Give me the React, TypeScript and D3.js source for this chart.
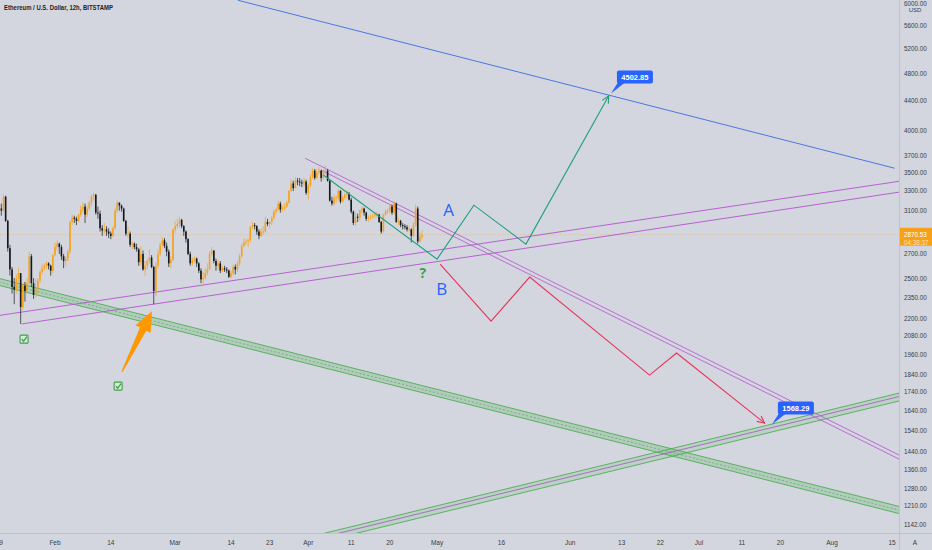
import * as d3 from 'd3';

const title = 'Ethereum / U.S. Dollar, 12h, BITSTAMP';
const firstBar = '2022-01-19T00:00:00Z';
const firstOpen = 3160;
const lastPrice = 2870.53;
const countdown = '04:38:37';

// 12h bars, two per day; open = previous close
const closes = [
    3120, 3100, 3240, 3000, 2750, 2570, 2430, 2410, 2500, 2540, 2280, 2440, 2400, 2460,
    2680, 2460, 2370, 2420, 2480, 2550, 2580, 2600, 2620, 2600, 2560, 2690, 2760, 2790,
    2760, 2680, 2640, 2660, 2720, 2990, 3030, 3020, 3000, 3060, 3110, 3140, 3060, 3120,
    3180, 3240, 3260, 3080, 3070, 2930, 2910, 2920, 2900, 2880, 2860, 2930, 3100, 3180,
    3150, 3120, 3000, 2880, 2880, 2780, 2790, 2760, 2740, 2630, 2700, 2570, 2600, 2640,
    2670, 2590, 2400, 2600, 2700, 2780, 2820, 2770, 2720, 2620, 2650, 2920, 2950, 2970,
    3010, 2950, 2900, 2830, 2700, 2620, 2650, 2660, 2620, 2560, 2490, 2500, 2540, 2570,
    2700, 2730, 2640, 2600, 2620, 2560, 2580, 2570, 2560, 2510, 2540, 2590, 2570, 2620,
    2680, 2770, 2800, 2810, 2820, 2940, 2960, 2950, 2900, 2860, 2900, 2900, 2990, 2970,
    2990, 3030, 3090, 3110, 3170, 3110, 3120, 3140, 3180, 3300, 3380, 3330, 3410, 3400,
    3390, 3380, 3400, 3280, 3360, 3450, 3520, 3440, 3500, 3520, 3440, 3520, 3520, 3410,
    3200, 3170, 3230, 3230, 3300, 3190, 3230, 3260, 3270, 3210, 3090, 2980, 3040, 3030,
    3100, 3120, 3080, 3020, 3030, 3040, 3050, 3060, 3060, 2990, 2900, 3060, 3090, 3100,
    3140, 3080, 3170, 2990, 3000, 2960, 2950, 2940, 2920, 2920, 2860, 2960, 3120, 2810,
    2850, 2870.53,
];
const highs = [
    3180, 3170, 3260, 3250, 3010, 2780, 2590, 2500, 2530, 2580, 2540, 2460, 2470, 2500,
    2720, 2700, 2500, 2490, 2500, 2560, 2610, 2620, 2640, 2630, 2610, 2700, 2800, 2820,
    2800, 2780, 2700, 2680, 2740, 3000, 3060, 3050, 3040, 3070, 3150, 3180, 3170, 3150,
    3200, 3260, 3280, 3270, 3140, 3100, 2960, 2980, 2950, 2930, 2900, 2950, 3120, 3200,
    3180, 3160, 3130, 3010, 2950, 2900, 2810, 2800, 2790, 2750, 2770, 2730, 2640, 2660,
    2740, 2690, 2600, 2630, 2740, 2800, 2850, 2840, 2800, 2740, 2680, 2930, 3000, 3020,
    3040, 3020, 2960, 2910, 2840, 2720, 2670, 2680, 2670, 2630, 2580, 2550, 2580, 2620,
    2720, 2760, 2720, 2660, 2650, 2640, 2600, 2600, 2590, 2570, 2560, 2610, 2610, 2640,
    2700, 2790, 2840, 2830, 2840, 2950, 2990, 2980, 2960, 2920, 2930, 2950, 3040, 3020,
    3000, 3050, 3110, 3130, 3200, 3190, 3150, 3170, 3200, 3310, 3430, 3410, 3450, 3440,
    3440, 3420, 3440, 3420, 3380, 3480, 3550, 3540, 3540, 3560, 3530, 3540, 3580, 3540,
    3420, 3240, 3260, 3250, 3320, 3310, 3250, 3280, 3310, 3290, 3230, 3100, 3080, 3070,
    3110, 3140, 3130, 3090, 3050, 3060, 3070, 3080, 3090, 3070, 3000, 3070, 3110, 3120,
    3170, 3160, 3190, 3180, 3030, 3010, 2980, 2970, 2960, 2950, 2930, 2990, 3160, 3140,
    2890, 2910,
];
const lows = [
    3080, 3050, 3090, 2990, 2720, 2520, 2380, 2300, 2380, 2470, 2160, 2260, 2320, 2380,
    2440, 2430, 2340, 2350, 2380, 2460, 2530, 2560, 2570, 2570, 2520, 2540, 2680, 2730,
    2700, 2650, 2580, 2600, 2640, 2700, 2960, 2980, 2960, 2990, 3040, 3080, 2980, 3040,
    3100, 3150, 3200, 3060, 3020, 2900, 2860, 2880, 2860, 2840, 2830, 2850, 2920, 3080,
    3100, 3090, 2990, 2860, 2840, 2760, 2740, 2740, 2720, 2600, 2600, 2560, 2520, 2570,
    2620, 2580, 2300, 2360, 2580, 2680, 2760, 2750, 2680, 2590, 2580, 2640, 2890, 2930,
    2940, 2930, 2860, 2800, 2690, 2600, 2600, 2630, 2590, 2540, 2460, 2450, 2490, 2520,
    2570, 2680, 2620, 2560, 2570, 2540, 2550, 2550, 2540, 2500, 2500, 2520, 2530, 2550,
    2600, 2670, 2760, 2780, 2760, 2800, 2920, 2920, 2870, 2830, 2850, 2870, 2890, 2950,
    2930, 2960, 3010, 3060, 3100, 3080, 3090, 3100, 3130, 3170, 3290, 3300, 3330, 3360,
    3350, 3340, 3350, 3260, 3210, 3340, 3430, 3420, 3430, 3480, 3400, 3420, 3480, 3400,
    3190, 3150, 3150, 3180, 3200, 3170, 3180, 3210, 3230, 3200, 3070, 2960, 2950, 2990,
    3000, 3070, 3050, 3000, 2990, 3010, 3020, 3030, 3030, 2980, 2880, 2890, 3050, 3070,
    3080, 3060, 3060, 2980, 2960, 2940, 2920, 2920, 2900, 2900, 2800, 2850, 2940, 2790,
    2800, 2830,
];

const priceTicks = [6000, 5600, 5200, 4800, 4400, 4000, 3700, 3500, 3300, 3100, 2900, 2700, 2500,
    2350, 2200, 2080, 1960, 1840, 1740, 1640, 1540, 1440, 1360, 1280, 1210, 1142];
const timeTicks = ['2022-01-19', '2022-02-01', '2022-02-14', '2022-03-01', '2022-03-14', '2022-03-23',
    '2022-04-01', '2022-04-11', '2022-04-20', '2022-05-01', '2022-05-16', '2022-06-01', '2022-06-13',
    '2022-06-22', '2022-07-01', '2022-07-11', '2022-07-20', '2022-08-01', '2022-08-15'];

// drawings: [time, price]
type Pt = [string, number];
const blueTrend: Pt[] = [['2022-03-15T14:00Z', 6060], ['2022-08-15T14:00Z', 3548]];
const supportUpper: Pt[] = [['2022-01-18T00:00Z', 2215], ['2022-08-18T00:00Z', 3413]];
const supportLower: Pt[] = [['2022-01-24T06:00Z', 2160], ['2022-08-18T00:00Z', 3297]];
const resistA: Pt[] = [['2022-03-31T06:00Z', 3663], ['2022-08-18T00:00Z', 1409]];
const resistB: Pt[] = [['2022-04-04T00:00Z', 3526], ['2022-08-18T00:00Z', 1391]];
const downBandTop: Pt[] = [['2022-01-18T00:00Z', 2506], ['2022-08-18T00:00Z', 1202]];
const downBandMid: Pt[] = [['2022-01-18T00:00Z', 2478], ['2022-08-18T00:00Z', 1188]];
const downBandBot: Pt[] = [['2022-01-18T00:00Z', 2451], ['2022-08-18T00:00Z', 1175]];
const upBandTop: Pt[] = [['2022-04-01T00:00Z', 1095], ['2022-08-18T00:00Z', 1741]];
const upBandMid: Pt[] = [['2022-04-01T00:00Z', 1083], ['2022-08-18T00:00Z', 1722]];
const upBandBot: Pt[] = [['2022-04-01T00:00Z', 1068], ['2022-08-18T00:00Z', 1698]];
const pathA: Pt[] = [['2022-04-04T14:00Z', 3470], ['2022-05-01T00:00Z', 2656], ['2022-05-09T14:00Z', 3154],
    ['2022-05-21T17:00Z', 2786], ['2022-06-10T00:00Z', 4470]];
const pathB: Pt[] = [['2022-05-01T17:00Z', 2614], ['2022-05-13T14:00Z', 2180], ['2022-05-22T14:00Z', 2508],
    ['2022-06-19T12:00Z', 1835], ['2022-06-25T19:00Z', 1969], ['2022-07-16T07:00Z', 1575]];
const bigArrow: Pt[] = [['2022-02-16T14:00Z', 1853], ['2022-02-23T14:00Z', 2250]];
const checks: Pt[] = [['2022-01-24T19:00Z', 2058], ['2022-02-15T17:00Z', 1772]];
const letters: [string, number, string, string][] = [
    ['2022-05-03T17:00Z', 3114, 'A', '#2962ff'],
    ['2022-05-02T02:00Z', 2421, 'B', '#2962ff'],
    ['2022-04-27T17:00Z', 2548, '?', '#43a047'],
];
const callouts: Pt[] = [['2022-06-10T12:00Z', 4502.85], ['2022-07-18T00:00Z', 1568.29]];

const W = 932;
const H = 550;
const plotRight = 899;
const plotBottom = 533;
const font = '"Liberation Sans", Arial, sans-serif';

const x = d3.scaleUtc()
    .domain([new Date('2022-02-01T00:00:00Z'), new Date('2022-08-01T00:00:00Z')])
    .range([55, 832]);
const y = d3.scaleLog().domain([1142, 5600]).range([524, 25]);

const px = (p: Pt): [number, number] => [x(new Date(p[0])), y(p[1])];
const line = d3.line<Pt>().x((p) => px(p)[0]).y((p) => px(p)[1]);

const fmtTime = (d: Date) => (d.getUTCDate() === 1 ? d3.utcFormat('%b')(d) : d3.utcFormat('%-d')(d));

const arrowHead = (pts: Pt[], len = 8, spread = 0.45) => {
    const [x0, y0] = px(pts[pts.length - 2]);
    const [x1, y1] = px(pts[pts.length - 1]);
    const a = Math.atan2(y1 - y0, x1 - x0);
    const l = [x1 - len * Math.cos(a - spread), y1 - len * Math.sin(a - spread)];
    const r = [x1 - len * Math.cos(a + spread), y1 - len * Math.sin(a + spread)];
    return `M${l[0]},${l[1]}L${x1},${y1}L${r[0]},${r[1]}`;
};

const bandArea = (top: Pt[], bot: Pt[]) => {
    const t = top.map(px);
    const b = bot.map(px).reverse();
    return 'M' + [...t, ...b].map((p) => p.join(',')).join('L') + 'Z';
};

const fatArrow = () => {
    const [x0, y0] = px(bigArrow[0]);
    const [x1, y1] = px(bigArrow[1]);
    const dx = x1 - x0;
    const dy = y1 - y0;
    const L = Math.hypot(dx, dy);
    const ux = dx / L;
    const uy = dy / L;
    const nx = -uy;
    const ny = ux;
    const head = 20;
    const bx = x1 - ux * head;
    const by = y1 - uy * head;
    const pts = [
        [x0 + nx * 0.6, y0 + ny * 0.6],
        [bx + nx * 3.5, by + ny * 3.5],
        [bx + nx * 8.5, by + ny * 8.5],
        [x1, y1],
        [bx - nx * 8.5, by - ny * 8.5],
        [bx - nx * 3.5, by - ny * 3.5],
        [x0 - nx * 0.6, y0 - ny * 0.6],
    ];
    return 'M' + pts.map((p) => p.join(',')).join('L') + 'Z';
};

export default function App() {
    const t0 = new Date(firstBar).getTime();
    const bars = closes.map((c, i) => {
        const o = i === 0 ? firstOpen : closes[i - 1];
        return {
            t: new Date(t0 + i * 12 * 3600 * 1000),
            o,
            c,
            h: Math.max(highs[i], o, c),
            l: Math.min(lows[i], o, c),
        };
    });
    const bw = 1.6;
    const lastY = y(lastPrice);

    return (
        <svg width={W} height={H} style={{position: 'absolute', left: 0, top: 0, background: '#d3d6de'}}
            fontFamily={font}>
            <defs>
                <clipPath id="plot">
                    <rect x={0} y={0} width={plotRight} height={plotBottom} />
                </clipPath>
            </defs>
            <g clipPath="url(#plot)">
                {/* descending green channel */}
                <path d={bandArea(downBandTop, downBandBot)} fill="#4caf50" fillOpacity={0.25} />
                <path d={line(downBandTop)!} stroke="#4caf50" strokeWidth={0.9} fill="none" />
                <path d={line(downBandBot)!} stroke="#4caf50" strokeWidth={0.9} fill="none" />
                <path d={line(downBandMid)!} stroke="#6e9e8a" strokeWidth={0.8} strokeDasharray="2,2" fill="none" />
                {/* ascending green channel */}
                <path d={bandArea(upBandTop, upBandBot)} fill="#4caf50" fillOpacity={0.15} />
                <path d={line(upBandTop)!} stroke="#4caf50" strokeWidth={0.9} fill="none" />
                <path d={line(upBandBot)!} stroke="#4caf50" strokeWidth={0.9} fill="none" />
                <path d={line(upBandMid)!} stroke="#9c5cb4" strokeWidth={0.8} fill="none" />
                {/* current price line */}
                <line x1={0} x2={plotRight} y1={lastY} y2={lastY} stroke="#f5a623" strokeOpacity={0.6}
                    strokeWidth={0.8} strokeDasharray="1,1.5" />
                {/* trend lines */}
                <path d={line(blueTrend)!} stroke="#4a78e0" strokeWidth={1} fill="none" />
                <path d={line(supportUpper)!} stroke="#b760d0" strokeWidth={1} fill="none" />
                <path d={line(supportLower)!} stroke="#b760d0" strokeWidth={1} fill="none" />
                <path d={line(resistA)!} stroke="#b760d0" strokeWidth={0.9} fill="none" />
                <path d={line(resistB)!} stroke="#b760d0" strokeWidth={0.9} fill="none" />
                {/* candles */}
                {bars.map((b, i) => {
                    const cx = x(b.t);
                    const col = b.c >= b.o ? '#f7a21b' : '#16181d';
                    const top = y(Math.max(b.o, b.c));
                    const bot = y(Math.min(b.o, b.c));
                    return (
                        <g key={i}>
                            <line x1={cx} x2={cx} y1={y(b.h)} y2={y(b.l)} stroke={col} strokeWidth={0.7} />
                            <rect x={cx - bw / 2} y={top} width={bw} height={Math.max(bot - top, 0.8)} fill={col} />
                        </g>
                    );
                })}
                {/* projections */}
                <path d={line(pathA)!} stroke="#1f9e80" strokeWidth={1.1} fill="none" />
                <path d={arrowHead(pathA)} stroke="#1f9e80" strokeWidth={1.1} fill="none" />
                <path d={line(pathB)!} stroke="#e8335a" strokeWidth={1.1} fill="none" />
                <path d={arrowHead(pathB)} stroke="#e8335a" strokeWidth={1.1} fill="none" />
                <path d={fatArrow()} fill="#ff9800" />
                {checks.map((p, i) => {
                    const [cx, cy] = px(p);
                    return (
                        <g key={i}>
                            <rect x={cx - 4} y={cy - 4} width={8} height={8} rx={1} fill="#d6ecd6" stroke="#3f9f4a" strokeWidth={1.1} />
                            <path d={`M${cx - 2.3},${cy}L${cx - 0.5},${cy + 2}L${cx + 3},${cy - 2.6}`} stroke="#3f9f4a"
                                strokeWidth={1.3} fill="none" />
                        </g>
                    );
                })}
                {letters.map(([d, p, s, c]) => {
                    const [lx, ly] = px([d, p]);
                    return (
                        <text key={s} x={lx} y={ly} fill={c} fontSize={s === '?' ? 14 : 17} fontWeight={s === '?' ? 700 : 400}
                            textAnchor="middle" dominantBaseline="central" fontFamily='"Open Sans", sans-serif'>
                            {s}
                        </text>
                    );
                })}
                {callouts.map((p, i) => {
                    const [cx, cy] = px(p);
                    const bx = cx + 6;
                    const by = cy - 23;
                    return (
                        <g key={i}>
                            <path d={`M${cx},${cy}L${bx + 1},${by + 12}L${bx + 8},${by + 12}Z`} fill="#2962ff" />
                            <rect x={bx} y={by} width={36} height={13} rx={2} fill="#2962ff" />
                            <text x={bx + 18} y={by + 6.8} fill="#fff" fontSize={7.5} fontWeight={700}
                                textAnchor="middle" dominantBaseline="central">
                                {p[1].toFixed(2)}
                            </text>
                        </g>
                    );
                })}
            </g>
            {/* title */}
            <text x={4} y={10} fontSize={7} fontWeight={700} fill="#1e1e24" textLength={109} lengthAdjust="spacingAndGlyphs">
                {title}
            </text>
            {/* axes panels */}
            <line x1={plotRight + 0.5} x2={plotRight + 0.5} y1={0} y2={H} stroke="#bfc2ca" strokeWidth={1} />
            <line x1={0} x2={W} y1={plotBottom + 0.5} y2={plotBottom + 0.5} stroke="#bfc2ca" strokeWidth={1} />
            {priceTicks.map((v) => (
                <text key={v} x={904} y={y(v)} fontSize={6.3} fill="#3a3d45" dominantBaseline="central">
                    {v.toFixed(2)}
                </text>
            ))}
            <text x={915} y={9.5} fontSize={6} fill="#3a3d45" textAnchor="middle" dominantBaseline="central">USD</text>
            <rect x={plotRight + 1} y={lastY - 7} width={W - plotRight - 1} height={18} fill="#f7a11a" />
            <text x={904} y={lastY} fontSize={6.3} fill="#fff" dominantBaseline="central">{lastPrice.toFixed(2)}</text>
            <text x={904} y={lastY + 7.5} fontSize={6.3} fill="#fde3b8" dominantBaseline="central">{countdown}</text>
            {timeTicks.map((s) => {
                const d = new Date(s + 'T00:00:00Z');
                return (
                    <text key={s} x={x(d)} y={542} fontSize={6.5} fill="#3a3d45" textAnchor="middle" dominantBaseline="central">
                        {fmtTime(d)}
                    </text>
                );
            })}
            <text x={915} y={542} fontSize={6.5} fill="#3a3d45" textAnchor="middle" dominantBaseline="central">A</text>
        </svg>
    );
}
